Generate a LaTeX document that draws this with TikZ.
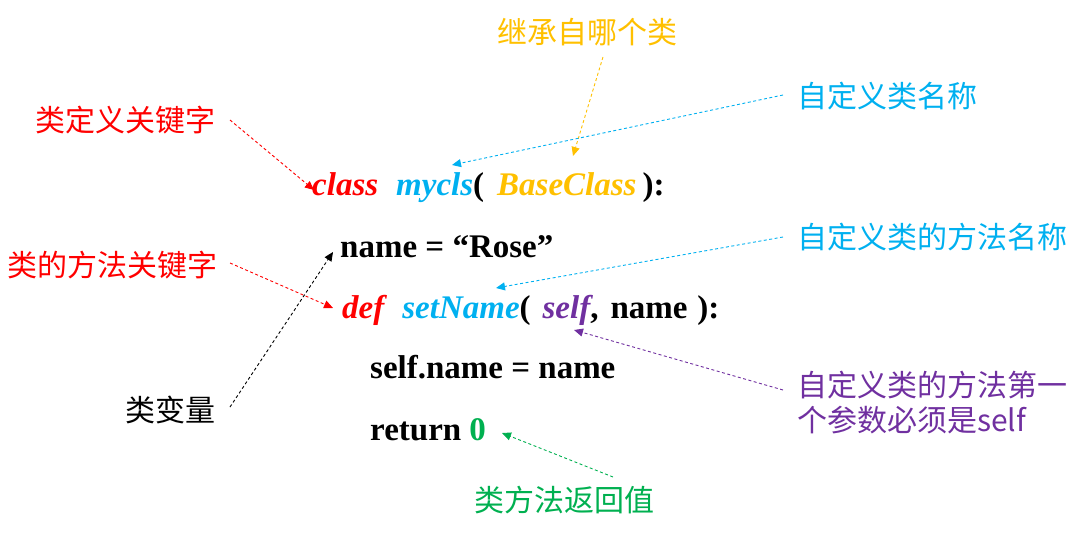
\documentclass[tikz,border=0pt]{standalone}
\usepackage{fontspec}
\setmainfont{Liberation Serif}
\newfontfamily\cjk{Noto Sans CJK SC}
\usetikzlibrary{arrows.meta}
\definecolor{kred}{HTML}{FF0000}
\definecolor{kcyan}{HTML}{00B0F0}
\definecolor{korange}{HTML}{FFC000}
\definecolor{kpurple}{HTML}{7030A0}
\definecolor{kgreen}{HTML}{00B050}
\tikzset{
  lbl/.style={font=\cjk\fontsize{30}{35}\selectfont, inner sep=0pt, anchor=west},
  code/.style={font=\fontsize{33}{38}\selectfont\bfseries, inner sep=0pt, anchor=base west},
  note/.style={dashed, dash pattern=on 3pt off 2.5pt, line width=0.9pt, -{Triangle[length=9pt,width=8pt]}},
}
\begin{document}
\begin{tikzpicture}[x=1pt,y=-1pt]
\useasboundingbox (0,0) rectangle (1080,533);
% code
\node[code] (l1) at (312,195) {\textcolor{kred}{\itshape class}\hspace{18pt}\textcolor{kcyan}{\itshape mycls}(\hspace{13pt}\textcolor{korange}{\itshape BaseClass}\hspace{6pt}):};
\node[code] (l2) at (340,257) {name = “Rose”};
\node[code] (l3) at (342,318) {\textcolor{kred}{\itshape def}\hspace{18pt}\textcolor{kcyan}{\itshape setName}(\hspace{12pt}\textcolor{kpurple}{\itshape self},\hspace{12pt}name\hspace{10pt}):};
\node[code] (l4) at (370,378) {self.name = name};
\node[code] (l5) at (370,440) {return \textcolor{kgreen}{0}};
% labels
\node[lbl, text=korange] (t1) at (497,32) {继承自哪个类};
\node[lbl, text=kcyan] (t2) at (797,96) {自定义类名称};
\node[lbl, text=kred] (t3) at (35,120) {类定义关键字};
\node[lbl, text=kcyan] (t4) at (797,237) {自定义类的方法名称};
\node[lbl, text=kred] (t5) at (7,265) {类的方法关键字};
\node[lbl, text=black] (t6) at (125,410) {类变量};
\node[lbl, text=kpurple, align=left] (t7) at (797,403) {自定义类的方法第一\\个参数必须是self};
\node[lbl, text=kgreen] (t8) at (474,500) {类方法返回值};
% arrow ends
\coordinate (s3) at (230,120); \coordinate (e3) at (314,190);
\coordinate (s1) at (603,57);  \coordinate (e1) at (573,156);
\coordinate (s2) at (783,95);  \coordinate (e2) at (452,165);
\coordinate (s5) at (230,263); \coordinate (e5) at (333,308);
\coordinate (s6) at (230,407); \coordinate (e6) at (333,252);
\coordinate (s4) at (783,237); \coordinate (e4) at (496,288);
\coordinate (s7) at (783,390); \coordinate (e7) at (574,330);
\coordinate (s8) at (613,477); \coordinate (e8) at (502,433);
\draw[note, kred] (s3) -- (e3);
\draw[note, korange] (s1) -- (e1);
\draw[note, kcyan] (s2) -- (e2);
\draw[note, kred] (s5) -- (e5);
\draw[note, black] (s6) -- (e6);
\draw[note, kcyan] (s4) -- (e4);
\draw[note, kpurple] (s7) -- (e7);
\draw[note, kgreen] (s8) -- (e8);
\end{tikzpicture}
\end{document}
